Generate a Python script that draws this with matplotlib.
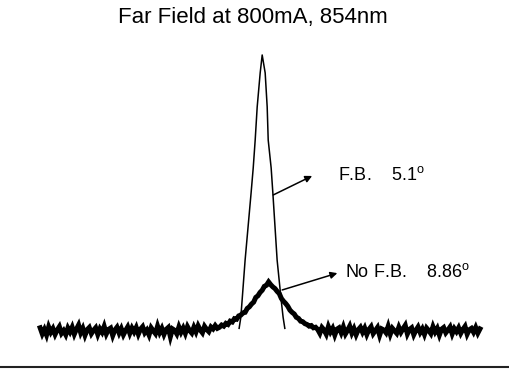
import numpy as np
import matplotlib
matplotlib.use("Agg")
import matplotlib.pyplot as plt

plt.rcParams["font.family"] = ["Liberation Sans", "DejaVu Sans"]
plt.rcParams["mathtext.fontset"] = "custom"
plt.rcParams["mathtext.rm"] = "Liberation Sans"

# angle (deg) and normalised intensity
fb_angle = [-5.4, -5.0, -4.7, -4.0, -2.6, -2.1, -1.64, -1.17, -0.47, 0.0,
            0.70, 1.17, 1.41, 2.1, 2.5, 3.5, 4.45, 4.9, 5.3]
fb_level = [0.01, 0.05, 0.112, 0.257, 0.50, 0.591, 0.692, 0.812, 0.935, 1.0,
            0.935, 0.812, 0.692, 0.591, 0.50, 0.257, 0.112, 0.05, 0.01]

# no feedback trace, sampled every 0.5 deg from -52 to 51
nofb_angle = np.arange(-52, 51.5, 0.5)
nofb_left = [0.012, -0.010, 0.006, -0.014, 0.015, -0.004, 0.009, -0.012, 0.004, 0.016, -0.008, 0.002,
             -0.013, 0.011, -0.003, 0.014, -0.011, 0.007, 0.022, -0.006, 0.010, -0.015, 0.005, 0.013,
             -0.009, 0.003, 0.012, -0.012, 0.008, -0.004, 0.017, -0.010, 0.006, 0.011, -0.016, 0.004,
             0.014, -0.007, 0.009, -0.013, 0.002, 0.015, -0.008, 0.011, -0.003, 0.013, -0.011, 0.007,
             0.016, -0.006, 0.004, -0.014, 0.012, 0.001, -0.009, 0.018, -0.005, 0.010, -0.012, 0.006,
             0.013, -0.020, 0.008, 0.003, -0.010, 0.015, -0.004, 0.011, -0.008, 0.016, 0.002, -0.007,
             0.014, -0.003, 0.019, 0.004, -0.006, 0.017, 0.006, -0.002, 0.015, 0.008, 0.020, 0.010]
nofb_peak = [0.014, 0.022, 0.018, 0.028, 0.024, 0.036, 0.033, 0.045, 0.043, 0.055,
             0.058, 0.066, 0.068, 0.082, 0.088, 0.098, 0.105, 0.122, 0.128, 0.140,
             0.148, 0.162, 0.166, 0.178, 0.168, 0.160, 0.154, 0.144, 0.136, 0.118,
             0.108, 0.100, 0.090, 0.076, 0.068, 0.062, 0.050, 0.046, 0.036, 0.034,
             0.027, 0.024, 0.018, 0.020, 0.012, 0.014, 0.006]
nofb_right = [-0.008, 0.013, 0.004, -0.011, 0.016, -0.003, 0.010, -0.014, 0.007, 0.012, -0.006, 0.015,
              -0.010, 0.003, 0.018, -0.007, 0.009, -0.013, 0.005, 0.014, -0.004, 0.011, -0.012, 0.006,
              0.016, -0.009, 0.002, 0.013, -0.015, 0.008, 0.004, -0.006, 0.017, -0.011, 0.010, 0.001,
              -0.008, 0.014, -0.004, 0.009, 0.021, -0.010, 0.006, 0.012, -0.013, 0.003, 0.015, -0.005,
              0.008, -0.012, 0.011, 0.002, -0.009, 0.016, -0.003, 0.010, -0.014, 0.007, 0.013, -0.006,
              0.004, 0.015, -0.010, 0.009, -0.002, 0.012, -0.008, 0.006, 0.017, -0.011, 0.005, 0.010,
              -0.004, 0.013, -0.007, 0.008]
nofb_level = nofb_left + nofb_peak + nofb_right

title = "Far Field at 800mA, 854nm"
fb_label = "F.B.    5.1$^{\\mathrm{o}}$"
nofb_label = "No F.B.    8.86$^{\\mathrm{o}}$"

fig = plt.figure(figsize=(5.09, 3.69), dpi=100)
ax = fig.add_axes([0.0, 0.0054, 1.0, 0.886])

ax.plot(nofb_angle, nofb_level, color="black", lw=3.6, solid_joinstyle="miter")
ax.plot(fb_angle, fb_level, color="black", lw=1.1)

ax.set_xlim(-61.4, 57.8)
ax.set_ylim(-0.130, 1.054)
ax.set_xticks([])
ax.set_yticks([])
for s in ["top", "left", "right"]:
    ax.spines[s].set_visible(False)
ax.spines["bottom"].set_linewidth(1.5)
ax.spines["bottom"].set_color("#222222")

arrow = dict(arrowstyle="-|>", lw=1.1, color="black", mutation_scale=10,
             shrinkA=0, shrinkB=0)
ax.annotate("", xy=(11.7, 0.562), xytext=(2.58, 0.493), arrowprops=arrow)
ax.annotate("", xy=(17.6, 0.210), xytext=(4.68, 0.149), arrowprops=arrow)

ax.text(17.8, 0.565, fb_label, ha="left", va="center", fontsize=13)
ax.text(19.4, 0.214, nofb_label, ha="left", va="center", fontsize=13)

fig.text(253 / 509, 1 - 17 / 369, title, ha="center", va="center", fontsize=16)

fig.savefig("out.png", dpi=100)
plt.close(fig)
